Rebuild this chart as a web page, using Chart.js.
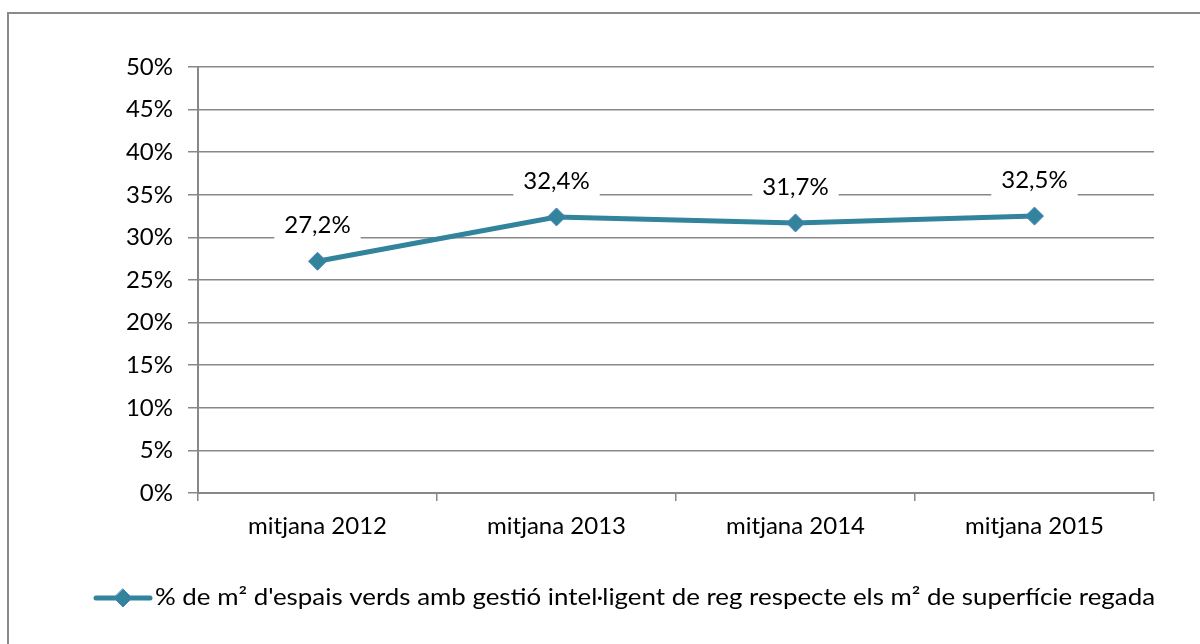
<!DOCTYPE html>
<html>
<head>
<meta charset="utf-8">
<script src="https://cdn.jsdelivr.net/npm/chart.js@4"></script>
<style>
  html, body { margin: 0; padding: 0; background: #fff; }
  #wrap { position: relative; width: 1200px; height: 644px; overflow: hidden; }
  #frame { position: absolute; left: 7px; top: 12px; width: 1300px; height: 800px;
           border-left: 2px solid #8a8a8a; border-top: 2px solid #8a8a8a; }
  canvas { position: absolute; left: 0; top: 0; }
</style>
</head>
<body>
<div id="wrap">
  <div id="frame"></div>
  <canvas id="myChart" width="1200" height="644"></canvas>
</div>
<script>
var categories = ["mitjana 2012", "mitjana 2013", "mitjana 2014", "mitjana 2015"];
var values = [27.2, 32.4, 31.7, 32.5];
var valueLabels = ["27,2%", "32,4%", "31,7%", "32,5%"];
var seriesName = "% de m² d'espais verds amb gestió intel·ligent de reg respecte els m² de superfície regada";

var FONT = "Lato, 'Liberation Sans', sans-serif";
var LINE = '#31849B';
var GRID = '#888888';

// value labels with white box behind them
var labelPlugin = {
  id: 'valueLabels',
  afterDatasetsDraw: function(chart) {
    var ctx = chart.ctx;
    var meta = chart.getDatasetMeta(0);
    ctx.save();
    ctx.font = '24px ' + FONT;
    ctx.textAlign = 'center';
    ctx.textBaseline = 'middle';
    meta.data.forEach(function(pt, i) {
      var txt = valueLabels[i];
      var w = ctx.measureText(txt).width + 20;
      var y = pt.y - 36;
      ctx.fillStyle = '#fff';
      ctx.fillRect(pt.x - w / 2, y - 17, w, 34);
      ctx.fillStyle = '#000';
      ctx.fillText(txt, pt.x, y);
    });
    ctx.restore();
  }
};

// legend: line + diamond then text
var legendPlugin = {
  id: 'lineLegend',
  afterDraw: function(chart) {
    var ctx = chart.ctx;
    var y = 598;
    ctx.save();
    ctx.strokeStyle = LINE;
    ctx.lineWidth = 5;
    ctx.lineCap = 'round';
    ctx.beginPath();
    ctx.moveTo(96, y);
    ctx.lineTo(150, y);
    ctx.stroke();
    ctx.fillStyle = LINE;
    ctx.strokeStyle = '#4A7EBB';
    ctx.lineWidth = 1;
    ctx.beginPath();
    ctx.moveTo(123, y - 9);
    ctx.lineTo(132, y);
    ctx.lineTo(123, y + 9);
    ctx.lineTo(114, y);
    ctx.closePath();
    ctx.fill();
    ctx.stroke();
    ctx.fillStyle = '#000';
    ctx.font = '23px ' + FONT;
    ctx.textBaseline = 'middle';
    ctx.textAlign = 'left';
    var tw = ctx.measureText(seriesName).width;
    ctx.save();
    ctx.translate(155, y);
    ctx.scale(1000 / tw, 1);
    ctx.fillText(seriesName, 0, 0);
    ctx.restore();
    ctx.restore();
  }
};

function renderChart() {
  var ctx = document.getElementById('myChart').getContext('2d');
  new Chart(ctx, {
    type: 'line',
    data: {
      labels: categories,
      datasets: [{
        label: seriesName,
        data: values,
        borderColor: LINE,
        borderWidth: 5,
        backgroundColor: LINE,
        pointStyle: 'rectRot',
        pointRadius: 9,
        pointHoverRadius: 9,
        pointBackgroundColor: LINE,
        pointBorderColor: '#4A7EBB',
        pointBorderWidth: 1,
        tension: 0
      }]
    },
    options: {
      responsive: false,
      animation: false,
      layout: { padding: { top: 67, right: 46, bottom: 0, left: 0 } },
      plugins: { legend: { display: false }, tooltip: { enabled: false } },
      scales: {
        x: {
          offset: true,
          afterFit: function(s) { s.height = 151; },
          grid: { offset: true, drawOnChartArea: false, drawTicks: true, tickLength: 8, color: GRID, lineWidth: 1.5 },
          border: { color: GRID, width: 2 },
          ticks: { color: '#000', font: { family: FONT, size: 24 }, padding: 11 }
        },
        y: {
          min: 0,
          max: 50,
          afterFit: function(s) { s.width = 198; },
          grid: { color: GRID, lineWidth: 1.5, tickLength: 10 },
          border: { color: GRID, width: 2 },
          ticks: {
            stepSize: 5,
            color: '#000',
            font: { family: FONT, size: 24 },
            padding: 15,
            callback: function(v) { return v + '%'; }
          }
        }
      }
    },
    plugins: [labelPlugin, legendPlugin]
  });
}

window.onload = function() {
  renderChart();
};
</script>
</body>
</html>
